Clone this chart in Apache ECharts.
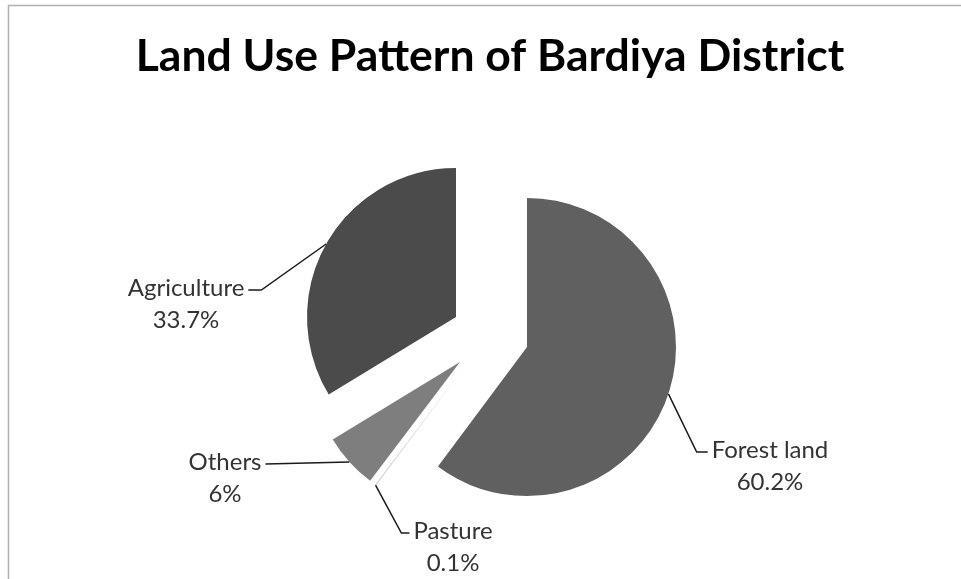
<!DOCTYPE html>
<html><head><meta charset="utf-8">
<script src="https://cdn.jsdelivr.net/npm/echarts@6/dist/echarts.min.js"></script>
<style>html,body{margin:0;padding:0;background:#fff}#c{width:961px;height:579px}</style>
</head><body><div id="c"></div>
<script>
const titleText = 'Land Use Pattern of Bardiya District';
const categories = ['Forest land', 'Pasture', 'Others', 'Agriculture'];
const values = [60.2, 0.1, 6, 33.7];

const colors = ['#606060', '#cdcdcd', '#7e7e7e', '#4b4b4b'];
const sliceCenters = [[527, 347], [465, 366], [460, 362], [456, 317]];
const labelPlaces = [
  { x: 770, y: 434, side: 'right', bend: 11 },
  { x: 453, y: 515, side: 'right', bend: 8 },
  { x: 225, y: 446, side: 'left', bend: 0 },
  { x: 186, y: 272, side: 'left', bend: 13 }
];
const R = 149;
const LH = 32;
const FONT = 'Lato';

const chart = echarts.init(document.getElementById('c'), null, { renderer: 'canvas' });
const total = values.reduce((a, b) => a + b, 0);

function midPoint(i) {
  let before = 0;
  for (let k = 0; k < i; k++) before += values[k];
  const a = (before + values[i] / 2) / total * 2 * Math.PI;
  return [sliceCenters[i][0] + R * Math.sin(a), sliceCenters[i][1] - R * Math.cos(a)];
}

const series = categories.map((name, i) => ({
  type: 'pie',
  silent: true,
  animation: false,
  center: sliceCenters[i],
  radius: [0, R],
  startAngle: 90,
  clockwise: true,
  avoidLabelOverlap: false,
  emphasis: { disabled: true },
  data: categories.map((n, k) => ({
    name: n,
    value: values[k],
    itemStyle: { color: k === i ? colors[k] : 'rgba(0,0,0,0)', borderWidth: 0 },
    label: { show: k === i },
    labelLine: { show: k === i }
  })),
  label: {
    position: 'outside',
    formatter: '{b}\n{c}%',
    fontFamily: FONT,
    fontSize: 24,
    lineHeight: LH,
    color: '#333333'
  },
  labelLine: {
    show: true,
    length: 10,
    length2: 10,
    smooth: false,
    lineStyle: { color: '#1a1a1a', width: 1.5 }
  },
  labelLayout: function (p) {
    const lp = labelPlaces[i];
    const w = p.labelRect ? p.labelRect.width : 100;
    const yLine = lp.y + LH / 2 + 2;
    const endX = lp.side === 'left' ? lp.x + w / 2 + 4 : lp.x - w / 2 - 4;
    const bendX = lp.side === 'left' ? endX + lp.bend : endX - lp.bend;
    const start = (p.labelLinePoints && p.labelLinePoints[0]) ? p.labelLinePoints[0] : midPoint(i);
    return {
      x: lp.x, y: lp.y, align: 'center', verticalAlign: 'top',
      labelLinePoints: [start, [bendX, yLine], [endX, yLine]]
    };
  }
}));

chart.setOption({
  backgroundColor: '#ffffff',
  animation: false,
  title: {
    text: titleText,
    left: 490,
    top: 34,
    padding: 0,
    textAlign: 'center',
    textStyle: { fontFamily: FONT, fontWeight: 'bold', fontSize: 44.5, color: '#000000' }
  },
  graphic: [{
    type: 'rect',
    shape: { x: 8.5, y: 5.5, width: 1200, height: 1200 },
    style: { fill: 'none', stroke: '#b0b0b0', lineWidth: 1.5 },
    silent: true,
    z: -10
  }],
  series: series
});
</script>
</body></html>
